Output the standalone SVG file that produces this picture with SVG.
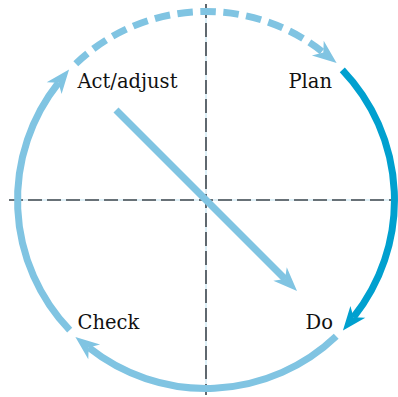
<svg xmlns="http://www.w3.org/2000/svg" width="398" height="397" viewBox="0 0 398 397">
  <style>
    .axis-bg { stroke: #d4ebf5; stroke-width: 1.6; fill: none; }
    .axis { stroke: #41474d; stroke-width: 1.6; fill: none; stroke-dasharray: 14 5; }
    .arc { fill: none; stroke-width: 7; stroke-linecap: butt; }
    .light { stroke: #80c4e2; }
    .dark { stroke: #00a0cf; }
    .dashed { stroke-dasharray: 15.5 7.5; }
    .label { font-family: "DejaVu Serif", serif; font-size: 19.5px; fill: #111; }
  </style>
  <defs>
    <marker id="ahLight" markerUnits="userSpaceOnUse" markerWidth="40" markerHeight="30" viewBox="-10 -15 40 30" refX="0" refY="0" orient="auto">
      <path d="M17,0 L-7,-9.5 L0,0 L-7,9.5 Z" fill="#80c4e2"/>
    </marker>
    <marker id="ahDark" markerUnits="userSpaceOnUse" markerWidth="40" markerHeight="30" viewBox="-10 -15 40 30" refX="0" refY="0" orient="auto">
      <path d="M17,0 L-7,-9.5 L0,0 L-7,9.5 Z" fill="#00a0cf"/>
    </marker>
  </defs>
  <g id="axes">
    <line class="axis-bg" x1="9" y1="200" x2="396" y2="200"/>
    <line class="axis" x1="9" y1="200" x2="396" y2="200"/>
    <line class="axis-bg" x1="206" y1="4" x2="206" y2="395"/>
    <line class="axis" x1="206" y1="4" x2="206" y2="395"/>
  </g>
  <g id="connectors">
    <path id="act-plan" class="arc light dashed" d="M75.8,63.7 A188.5,188.5 0 0 1 323.3,52.5" marker-end="url(#ahLight)"/>
    <path id="plan-do" class="arc dark" d="M342.3,69.8 A188.5,188.5 0 0 1 353.5,317.3" marker-end="url(#ahDark)"/>
    <path id="do-check" class="arc light" d="M336.2,336.3 A188.5,188.5 0 0 1 88.7,347.5" marker-end="url(#ahLight)"/>
    <path id="check-act" class="arc light" d="M69.7,330.2 A188.5,188.5 0 0 1 58.5,82.7" marker-end="url(#ahLight)"/>
    <path id="act-do" class="arc light" d="M116,110 L285,279" marker-end="url(#ahLight)"/>
  </g>
  <g id="node-act"><text class="label" x="77.5" y="87.5">Act/adjust</text></g>
  <g id="node-plan"><text class="label" x="288.5" y="87.5">Plan</text></g>
  <g id="node-check"><text class="label" x="77.5" y="329">Check</text></g>
  <g id="node-do"><text class="label" x="305.5" y="329">Do</text></g>
</svg>
